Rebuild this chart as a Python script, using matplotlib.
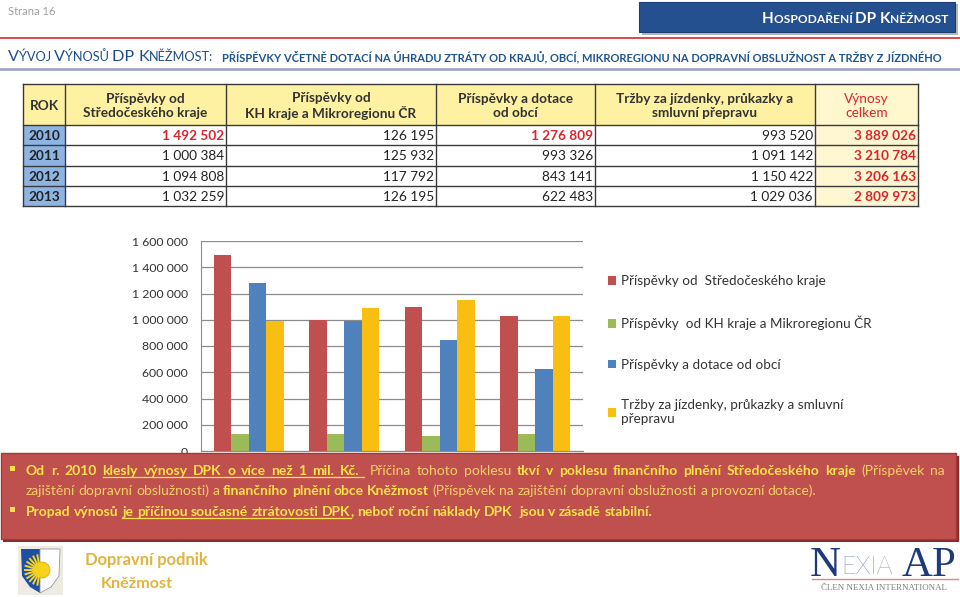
import numpy as np
import matplotlib.pyplot as plt
from matplotlib.patches import Rectangle, Polygon, Circle, Patch

# ---- data ----
years = ['2010', '2011', '2012', '2013']
stredocesky = [1492502, 1000384, 1094808, 1032259]
kh_mikroregion = [126195, 125932, 117792, 126195]
obce = [1276809, 993326, 843141, 622483]
trzby = [993520, 1091142, 1150422, 1029036]
celkem = [3889026, 3210784, 3206163, 2809973]

series_labels = ['Příspěvky od  Středočeského kraje',
                 'Příspěvky  od KH kraje a Mikroregionu ČR',
                 'Příspěvky a dotace od obcí',
                 'Tržby za jízdenky, průkazky a smluvní\npřepravu']
series_colors = ['#C0504D', '#9BBB59', '#4F81BD', '#F8BE12']
header_labels = ['ROK', 'Příspěvky od\nStředočeského kraje',
                 'Příspěvky od\nKH kraje a Mikroregionu ČR',
                 'Příspěvky a dotace\nod obcí',
                 'Tržby za jízdenky, průkazky a\nsmluvní přepravu',
                 'Výnosy\ncelkem']
yticks = [0, 200000, 400000, 600000, 800000, 1000000, 1200000, 1400000, 1600000]
red_cells = [(0, 0), (0, 2)]   # (row, column) printed red in the table

FONT = 'Lato'
plt.rcParams['font.family'] = [FONT, 'DejaVu Sans']


def fmt(v):
    return f'{v:,}'.replace(',', ' ')


fig = plt.figure(figsize=(9.6, 5.97), dpi=100)
bg = fig.add_axes([0, 0, 1, 1], zorder=0)
top = fig.add_axes([0, 0, 1, 1], zorder=3)
for a in (bg, top):
    a.set_xlim(0, 960)
    a.set_ylim(597, 0)
    a.axis('off')
r = fig.canvas.get_renderer()


def width(s, size, weight='normal', family=None):
    fam = family or [FONT, 'DejaVu Sans']
    t = bg.text(0, 0, s + '|', fontsize=size, fontweight=weight, family=fam)
    t2 = bg.text(0, 0, '|', fontsize=size, fontweight=weight, family=fam)
    w = t.get_window_extent(r).width - t2.get_window_extent(r).width
    t.remove()
    t2.remove()
    return w


def caps(ax, x, y, parts, color, weight, fit=None, right=None):
    # parts: (text, size) drawn one after another on one baseline
    ws = [width(s, sz, weight) for s, sz in parts]
    k = 1.0 if fit is None else fit / sum(ws)
    if right is not None:
        x = right - sum(ws) * k
    for (s, sz), w in zip(parts, ws):
        ax.text(x, y, s, fontsize=sz * k, fontweight=weight, color=color, va='baseline')
        x += w * k


def rich_line(ax, x0, y, runs, size, colors, right=None):
    toks = []   # [text, bold, underline, glued to previous]
    for text, bold, ul in runs:
        pieces = text.split(' ')
        for j, p in enumerate(pieces):
            if j == 0 and toks:
                if toks[-1][0] == '':
                    toks[-1] = [p, bold, ul, False]
                elif p != '':
                    toks.append([p, bold, ul, True])
                continue
            toks.append([p, bold, ul, False])
    ws = [width(t, size, 'bold' if b else 'normal') if t else 0 for t, b, u, g in toks]
    gap = width(' ', size)
    if right is not None:
        ngaps = sum(1 for t in toks[1:] if not t[3])
        gap = (right - x0 - sum(ws)) / ngaps
    x = x0
    for i, ((t, b, u, g), w) in enumerate(zip(toks, ws)):
        if i > 0 and not g:
            x += gap
        if t:
            ax.text(x, y, t, fontsize=size, fontweight='bold' if b else 'normal',
                    color=colors[1] if b else colors[0], va='baseline')
        if u:
            end = x + w
            if i + 1 < len(toks) and toks[i + 1][2] and not toks[i + 1][3]:
                end += gap
            ax.plot([x, end], [y + 2.2, y + 2.2], color=colors[1], lw=0.9)
        x += w


# ---- page header ----
bg.text(8, 15, 'Strana 16', fontsize=8, color='#A0A0A0', va='baseline')
bg.add_patch(Rectangle((642, 4), 316, 31, fc='#B8B8B8', ec='none'))
bg.add_patch(Rectangle((639, 2), 316, 30, fc='#24508F', ec='#1B3F72', lw=0.8))
caps(bg, 0, 23, [('H', 11), ('OSPODAŘENÍ ', 8.6), ('DP ', 11), ('K', 11), ('NĚŽMOST', 8.6)],
     'white', 'bold', fit=186, right=948)
bg.plot([0, 960], [38, 38], color='#D43A3A', lw=1.3)
bg.plot([0, 960], [69, 69], color='#A3A6C8', lw=2)
caps(bg, 8, 61, [('V', 13), ('ÝVOJ ', 10.2), ('V', 13), ('ÝNOSŮ ', 10.2), ('DP ', 13),
                 ('K', 13), ('NĚŽMOST:', 10.2)], '#1F4E8A', 'normal', fit=205)
caps(bg, 222, 61, [('PŘÍSPĚVKY VČETNĚ DOTACÍ NA ÚHRADU ZTRÁTY OD KRAJŮ, OBCÍ, MIKROREGIONU '
                    'NA DOPRAVNÍ OBSLUŽNOST A TRŽBY Z JÍZDNÉHO', 8)], '#1F5590', 'bold', fit=718)

# ---- table ----
cols = [23, 65, 226, 436, 595, 815, 918]
rows = [84, 125, 145, 166, 186, 206]
for c in range(6):
    fc = '#FFF7CE' if c == 5 else '#FFF1A2'
    bg.add_patch(Rectangle((cols[c], rows[0]), cols[c + 1] - cols[c], rows[1] - rows[0], fc=fc, ec='none'))
    hc = '#D9262E' if c == 5 else '#333333'
    bg.text((cols[c] + cols[c + 1]) / 2, 106, header_labels[c], ha='center', va='center',
            fontsize=9.8, fontweight='normal' if c == 5 else 'bold', color=hc, linespacing=1.15)
table_cols = [stredocesky, kh_mikroregion, obce, trzby, celkem]
for i, yr in enumerate(years):
    y0, y1 = rows[i + 1], rows[i + 2]
    cy = (y0 + y1) / 2 + 1
    bg.add_patch(Rectangle((cols[0], y0), cols[1] - cols[0], y1 - y0, fc='#8EB4E3', ec='none'))
    bg.add_patch(Rectangle((cols[5], y0), cols[6] - cols[5], y1 - y0, fc='#FFF6D2', ec='none'))
    bg.text((cols[0] + cols[1]) / 2, cy, yr, ha='center', va='center', fontsize=9.8,
            fontweight='bold', color='#222222')
    for c, vals in enumerate(table_cols):
        red = (i, c) in red_cells or c == 4
        bg.text(cols[c + 2] - 2, cy, fmt(vals[i]), ha='right', va='center', fontsize=9.8,
                fontweight='bold' if red else 'normal', color='#D9262E' if red else '#222222')
for x in cols:
    bg.plot([x, x], [rows[0], rows[-1]], color='#3A3A3A', lw=1)
for y in rows:
    bg.plot([cols[0], cols[-1]], [y, y], color='#3A3A3A', lw=1)

# ---- chart ----
ax = fig.add_axes([201 / 960, 1 - 451 / 597, 382 / 960, 210 / 597], zorder=1)
x = np.arange(len(years))
bw = 0.182
for i, vals in enumerate([stredocesky, kh_mikroregion, obce, trzby]):
    ax.bar(x + (i - 1.5) * bw, vals, bw, color=series_colors[i], zorder=2)
ax.set_xlim(-0.5, 3.5)
ax.set_ylim(0, 1600000)
ax.set_yticks(yticks)
ax.set_yticklabels([fmt(v) for v in yticks])
ax.set_xticks([])
ax.grid(axis='y', color='#8C8C8C', lw=0.9)
ax.set_axisbelow(True)
for s in ['top', 'right']:
    ax.spines[s].set_visible(False)
for s in ['left', 'bottom']:
    ax.spines[s].set_color('#8C8C8C')
ax.tick_params(axis='y', length=0, pad=9.5, labelsize=8.8, labelcolor='#333333')

handles = [Patch(fc=c, ec='none') for c in series_colors]
ax.legend(handles, series_labels, loc='upper left', bbox_to_anchor=(608 / 960, 1 - 275 / 597),
          bbox_transform=fig.transFigure, frameon=False, fontsize=9.7, handlelength=0.6,
          handleheight=0.6, handletextpad=0.4, labelspacing=2.12, borderpad=0, borderaxespad=0,
          labelcolor='#333333')

# ---- red box with comments ----
top.add_patch(Rectangle((3, 456), 956, 86, fc='#8B2A27', ec='none'))
top.add_patch(Rectangle((1, 453), 955, 86, fc='#C0504D', ec='#A33A37', lw=1))
tcol = ('#F7CF68', '#FFE24A')
size = 10
line1 = [('Od r. 2010 ', True, False), ('klesly výnosy DPK o více než 1 mil. Kč.  ', True, True),
         ('Příčina tohoto poklesu ', False, False),
         ('tkví v poklesu finančního plnění Středočeského kraje ', True, False),
         ('(Příspěvek na', False, False)]
nat = sum(width(t, size, 'bold' if b else 'normal') for t, b, u in line1)
if nat > 905:
    size = size * 905 / nat
rich_line(top, 26, 475, line1, size, tcol, right=945)
rich_line(top, 26, 495, [('zajištění dopravní obslužnosti) a ', False, False),
                         ('finančního plnění obce Kněžmost ', True, False),
                         ('(Příspěvek na zajištění dopravní obslužnosti a provozní dotace).', False, False)],
          size, tcol)
rich_line(top, 26, 516, [('Propad výnosů ', True, False),
                         ('je příčinou současné ztrátovosti DPK', True, True),
                         (', neboť roční náklady DPK  jsou v zásadě stabilní.', True, False)],
          size, tcol)
for by in (466, 507):
    top.add_patch(Rectangle((10, by), 5, 5, fc='#FFE24A', ec='none'))

# ---- footer logos ----
top.add_patch(Rectangle((18, 546), 45, 49, fc='#EEECE2', ec='none'))
top.add_patch(Polygon([(21, 549), (40, 549), (40, 593), (30, 587), (22, 576)], fc='#1E4FA3', ec='none'))
top.add_patch(Polygon([(40, 549), (60, 549), (59, 576), (51, 587), (40, 593)], fc='white', ec='#9A9A9A', lw=0.6))
for ang in np.linspace(100, 260, 11):
    a = np.radians(ang)
    top.plot([40, 40 + 15 * np.cos(a)], [570, 570 - 15 * np.sin(a)], color='#F5D21E', lw=1.4)
top.add_patch(Circle((42, 570), 8, fc='#F5D21E', ec='#D9A800', lw=0.5))
caps(top, 0, 565, [('Dopravní podnik', 13)], '#E2B43E', 'bold', fit=123, right=208)
caps(top, 0, 588, [('Kněžmost', 13)], '#E2B43E', 'bold', fit=72, right=173)

serif = 'Liberation Serif'
top.text(810, 576, 'N', fontsize=31, color='#1F3A7A', family=serif, va='baseline')
top.text(841, 574, 'EXIA', fontsize=18, color='#1F3A7A', va='baseline', fontweight='light')
top.text(902, 576, 'AP', fontsize=31, color='#1F3A7A', family=serif, va='baseline')
top.plot([812, 958], [579, 579], color='#D98B80', lw=1)
top.text(884, 590, 'ČLEN NEXIA INTERNATIONAL', fontsize=6.4, color='#808080', family=serif,
         ha='center', va='baseline')

fig.savefig('out.png', dpi=100)
